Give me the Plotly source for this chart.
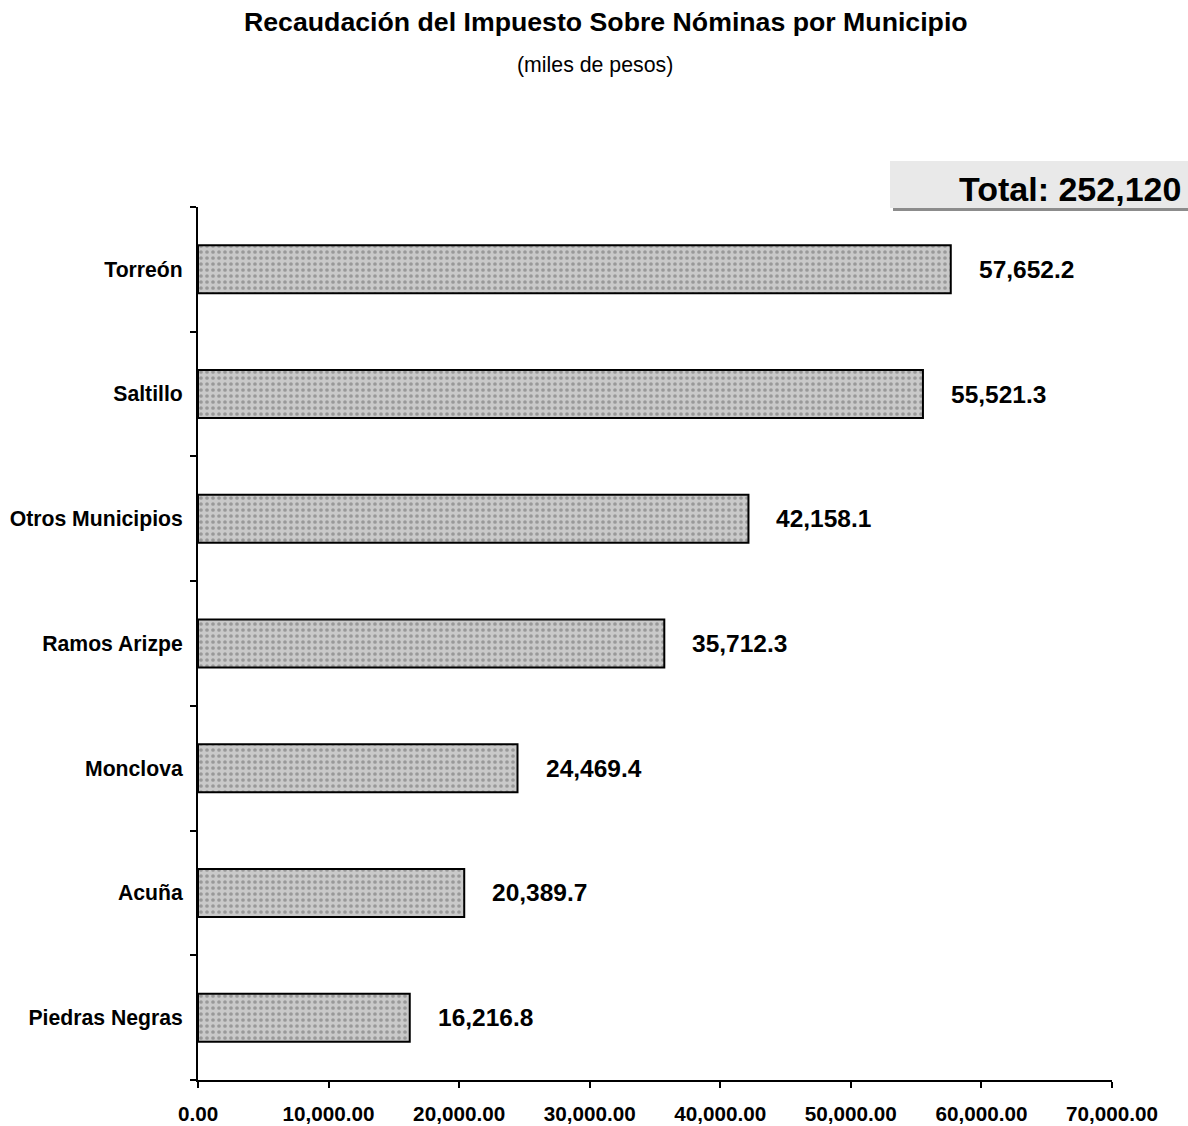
import plotly.graph_objects as go

municipios = ["Piedras Negras", "Acuña", "Monclova", "Ramos Arizpe",
              "Otros Municipios", "Saltillo", "Torreón"]
recaudacion = [16216.8, 20389.7, 24469.4, 35712.3, 42158.1, 55521.3, 57652.2]
x_ticks = [0, 10000, 20000, 30000, 40000, 50000, 60000, 70000]
total_text = "Total: 252,120"
title_text = "Recaudación del Impuesto Sobre Nóminas por Municipio"
subtitle_text = "(miles de pesos)"

FONT = "Arial, 'Liberation Sans', sans-serif"

fig = go.Figure()
fig.add_trace(go.Bar(
    x=recaudacion, y=municipios, orientation="h",
    marker=dict(
        color="#c9c9c9",
        line=dict(color="#000000", width=2),
        pattern=dict(shape=".", fgcolor="#6a6a6a", fgopacity=0.5,
                     size=6, solidity=0.3, fillmode="overlay"),
    ),
    hoverinfo="x+y",
))

for v, m in zip(recaudacion, municipios):
    fig.add_annotation(x=v, y=m, xref="x", yref="y", text=f"{v:,.1f}",
                       showarrow=False, xanchor="left", xshift=26,
                       font=dict(family=FONT, size=24.5, color="#000", weight="bold"))

# title & subtitle
fig.add_annotation(x=(606 - 198) / 914, xref="paper", y=(1080 - 22) / 873, yref="paper",
                   text=title_text, showarrow=False,
                   xanchor="center", yanchor="middle",
                   font=dict(family=FONT, size=26.7, color="#000", weight="bold"))
fig.add_annotation(x=(595 - 198) / 914, xref="paper", y=(1080 - 65) / 873, yref="paper",
                   text=subtitle_text, showarrow=False,
                   xanchor="center", yanchor="middle",
                   font=dict(family=FONT, size=21.3, color="#000"))

# total box
fig.add_shape(type="rect", xref="paper", yref="paper",
              x0=(893 - 198) / 914, x1=1.1, y0=(1080 - 211) / 873, y1=(1080 - 165) / 873,
              fillcolor="#8c8c8c", line=dict(width=0), layer="above")
fig.add_shape(type="rect", xref="paper", yref="paper",
              x0=(890 - 198) / 914, x1=1.1, y0=(1080 - 208) / 873, y1=(1080 - 161) / 873,
              fillcolor="#e9e9e9", line=dict(width=0), layer="above")
fig.add_annotation(x=(1183 - 198) / 914, xref="paper", y=(1080 - 189) / 873, yref="paper",
                   text=total_text, showarrow=False,
                   xanchor="right", yanchor="middle",
                   font=dict(family=FONT, size=34, color="#000", weight="bold"))

fig.update_layout(
    width=1188, height=1126,
    margin=dict(l=198, r=76, t=207, b=46, autoexpand=False),
    paper_bgcolor="white", plot_bgcolor="white",
    showlegend=False, bargap=0.615,
    font=dict(family=FONT, color="#000"),
)
fig.update_xaxes(
    range=[0, 70000], tickvals=x_ticks, tickformat=",.2f",
    ticks="outside", ticklen=6, tickwidth=2, tickcolor="#000",
    showline=True, linecolor="#000", linewidth=2,
    showgrid=False, zeroline=False, automargin=False,
    tickfont=dict(family=FONT, size=20.7, color="#000", weight="bold"),
    ticklabelstandoff=8,
)
fig.update_yaxes(
    type="category", categoryorder="array", categoryarray=municipios,
    range=[-0.5, 6.5],
    ticks="outside", tickson="boundaries", ticklen=6, tickwidth=2, tickcolor="#000",
    showline=True, linecolor="#000", linewidth=2,
    showgrid=False, zeroline=False, automargin=False,
    tickfont=dict(family=FONT, size=21.2, color="#000", weight="bold"),
    ticklabelstandoff=9,
)

fig.write_html("out.html", config={"displayModeBar": False},
               post_script="document.body.style.margin='0';")
